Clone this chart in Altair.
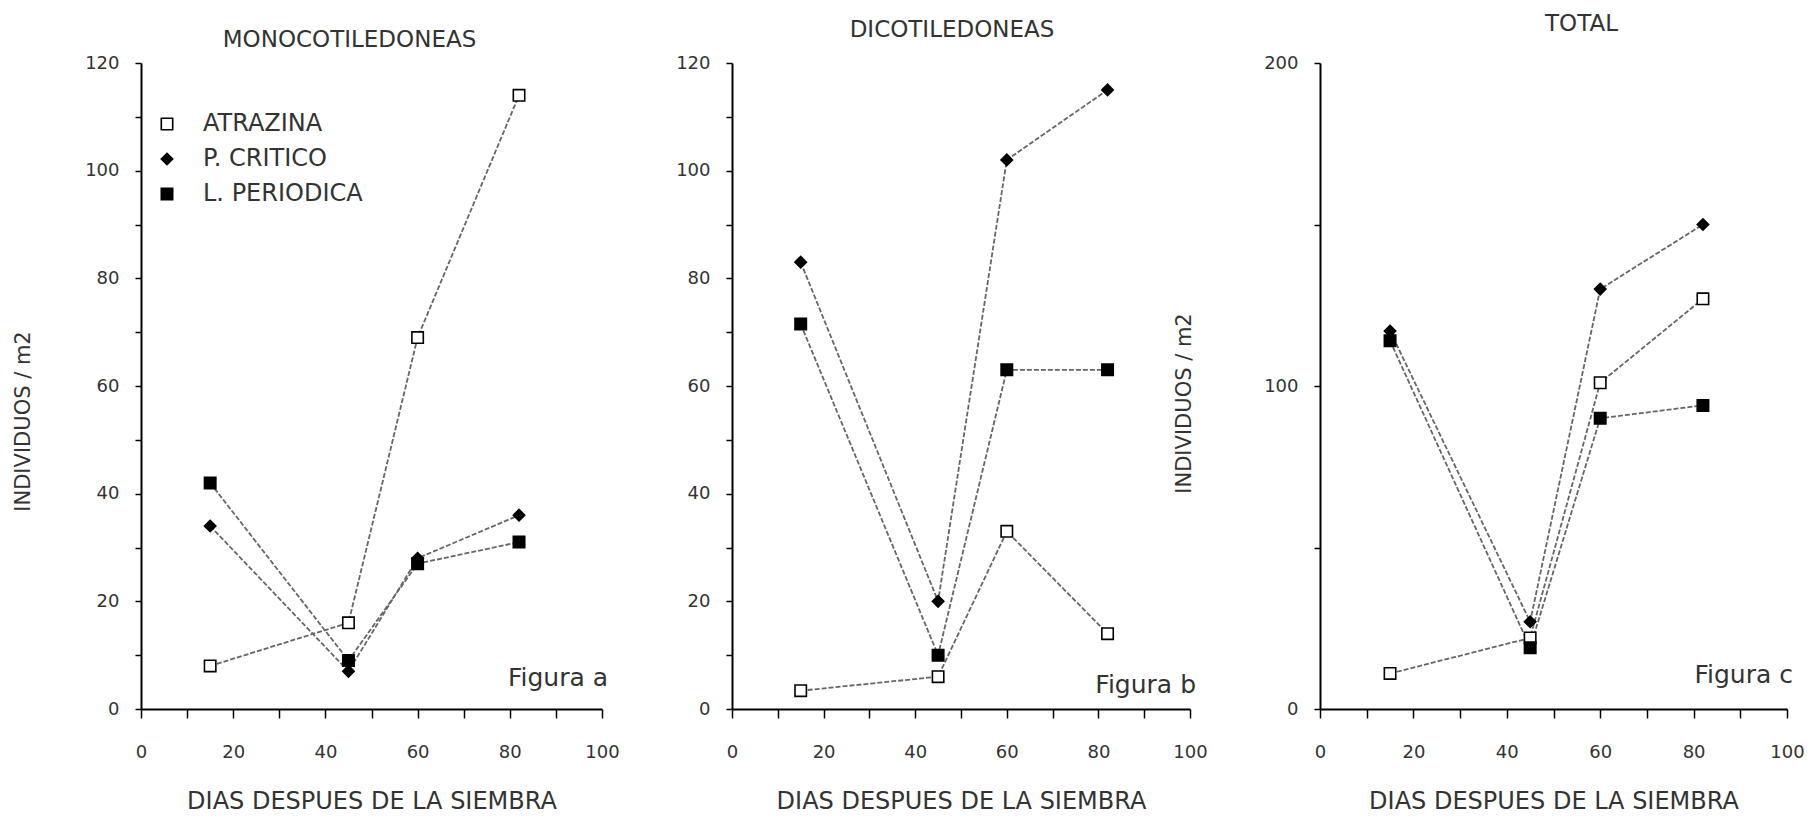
import altair as alt
import pandas as pd

# ---- data ----
series = ["ATRAZINA", "P. CRITICO", "L. PERIODICA"]
days = [15, 45, 60, 82]

mono_atrazina = [8, 16, 69, 114]
mono_pcritico = [34, 7, 28, 36]
mono_lperiodica = [42, 9, 27, 31]

dico_atrazina = [3.4, 6, 33, 14]
dico_pcritico = [83, 20, 102, 115]
dico_lperiodica = [71.5, 10, 63, 63]

total_atrazina = [11, 22, 101, 127]
total_pcritico = [117, 27, 130, 150]
total_lperiodica = [114, 19, 90, 94]

x_ticks = [0, 10, 20, 30, 40, 50, 60, 70, 80, 90, 100]
y_ticks_small = [0, 10, 20, 30, 40, 50, 60, 70, 80, 90, 100, 110, 120]
y_ticks_total = [0, 50, 100, 150, 200]

FONT = "DejaVu Sans"
TXT = "#333333"
LINE = "#666666"
H = 646


def make_df(a, p, l):
    rows = []
    for name, vals in zip(series, [a, p, l]):
        for d, v in zip(days, vals):
            rows.append({"serie": name, "dias": d, "valor": v})
    return pd.DataFrame(rows)


def panel(title, tdx, toff, a, p, l, ymax, yticks, ylab_step, ytitle, ytpad, ytshift,
          fig_text, fig_y, w, show_legend):
    df = make_df(a, p, l)
    base = alt.Chart(df)

    x = alt.X(
        "dias:Q",
        scale=alt.Scale(domain=[0, 100], nice=False),
        axis=alt.Axis(
            values=x_ticks,
            labelExpr="datum.value % 20 == 0 ? datum.label : ''",
            title="DIAS DESPUES DE LA SIEMBRA",
            tickSize=9, labelPadding=25, titlePadding=28,
            labelFontSize=18, titleFontSize=24,
            labelFlush=False,
        ),
    )
    yaxis_kwargs = dict(
        values=yticks,
        labelExpr=f"datum.value % {ylab_step} == 0 ? datum.label : ''",
        tickSize=6, labelPadding=16,
        labelFontSize=18, titleFontSize=21,
        labelFlush=False,
    )
    if ytitle:
        yaxis_kwargs.update(title=ytitle, titlePadding=ytpad, titleY=H / 2 + ytshift)
    else:
        yaxis_kwargs.update(title=None)
    y = alt.Y("valor:Q", scale=alt.Scale(domain=[0, ymax], nice=False),
              axis=alt.Axis(**yaxis_kwargs))

    if show_legend:
        leg = alt.Legend(
            title=None, orient="none", legendX=14, legendY=49,
            labelFont=FONT, labelFontSize=24, labelColor=TXT,
            symbolSize=130, symbolStrokeWidth=1.6,
            rowPadding=11, labelOffset=24,
        )
    else:
        leg = None

    shape = alt.Shape("serie:N",
                      scale=alt.Scale(domain=series, range=["square", "diamond", "square"]),
                      legend=leg)
    fill = alt.Fill("serie:N",
                    scale=alt.Scale(domain=series, range=["white", "black", "black"]),
                    legend=leg)
    stroke = alt.Stroke("serie:N",
                        scale=alt.Scale(domain=series, range=["black", "black", "black"]),
                        legend=leg)

    lines = base.mark_line(color=LINE, strokeWidth=1.8, strokeDash=[5, 2]).encode(
        x=x, y=y, detail="serie:N", order="dias:Q"
    )
    pts = base.mark_point(filled=True, strokeWidth=1.6,
                          size=130, opacity=1, fillOpacity=1).encode(
        x=x, y=y, shape=shape, fill=fill, stroke=stroke
    )
    fig = alt.Chart(pd.DataFrame({"t": [fig_text]})).mark_text(
        align="right", baseline="middle", font=FONT, fontSize=25, color=TXT, dx=6
    ).encode(x=alt.datum(100), y=alt.datum(fig_y), text="t:N")

    return alt.layer(lines, pts, fig).properties(
        width=w, height=H,
        title=alt.TitleParams(title, dx=tdx, offset=toff, fontSize=23, font=FONT,
                              fontWeight="normal", color=TXT, anchor="middle"),
    )


p1 = panel("MONOCOTILEDONEAS", -22, 2, mono_atrazina, mono_pcritico, mono_lperiodica,
           120, y_ticks_small, 20, "INDIVIDUOS / m2", 51, 35, "Figura a", 5.8, 461, True)
p2 = panel("DICOTILEDONEAS", -9, 12, dico_atrazina, dico_pcritico, dico_lperiodica,
           120, y_ticks_small, 20, None, 0, 0, "Figura b", 4.5, 458, False)
p3 = panel("TOTAL", 28, 18, total_atrazina, total_pcritico, total_lperiodica,
           200, y_ticks_total, 100, "INDIVIDUOS / m2", 69, 17, "Figura c", 10.5, 467, False)

chart = alt.hconcat(p1, p2, p3, spacing=130, bounds="flush").resolve_scale(
    shape="independent", fill="independent", stroke="independent"
).resolve_legend(
    shape="independent", fill="independent", stroke="independent"
).configure(
    padding={"left": 12, "top": 12, "right": 5, "bottom": 5},
    background="white",
).configure_axis(
    labelFont=FONT, titleFont=FONT, labelColor=TXT, titleColor=TXT,
    titleFontWeight="normal", domainColor="black", domainWidth=2,
    tickColor="black", tickWidth=1.5, grid=False,
).configure_view(stroke="transparent")

chart.save("out.html", embed_options={"renderer": "svg", "actions": False})
